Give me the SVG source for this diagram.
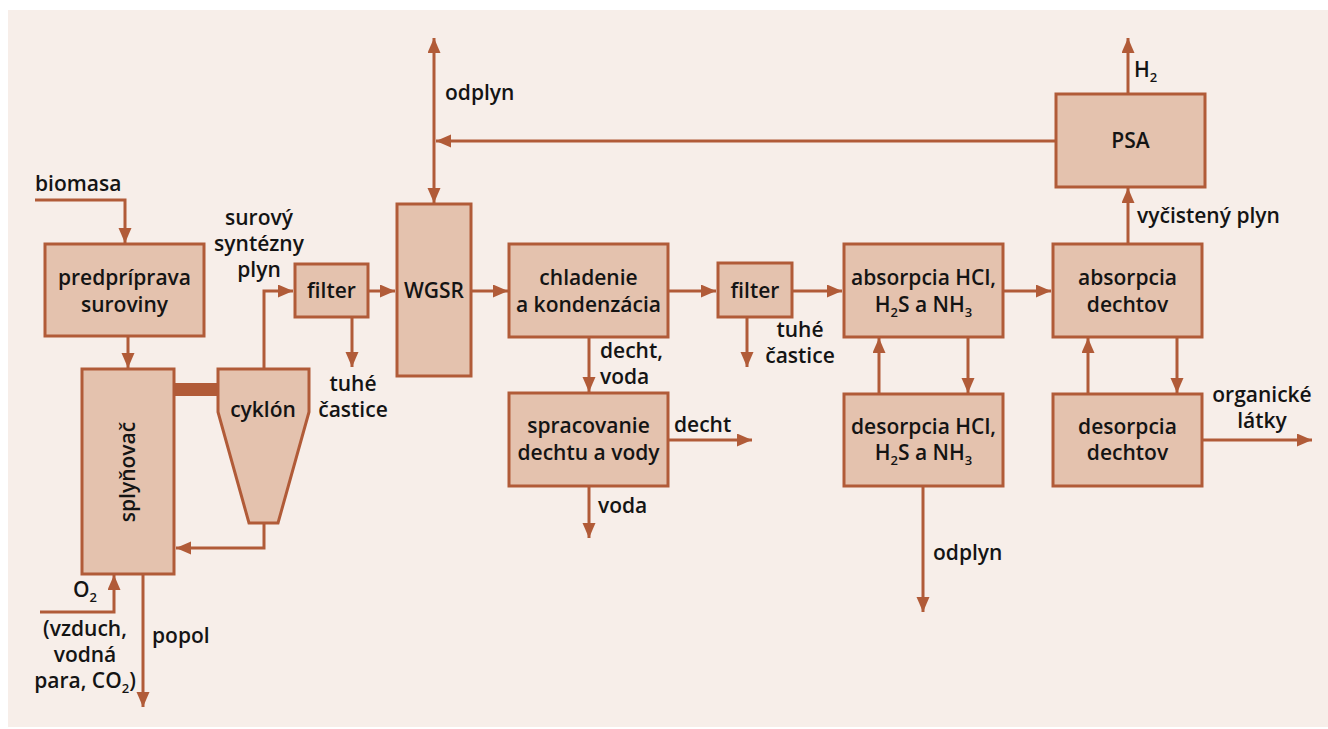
<svg xmlns="http://www.w3.org/2000/svg" width="1328" height="729" viewBox="0 0 1328 729">
  <style>
    .box { fill: #e4c2ae; stroke: #b15b38; stroke-width: 3; }
    .ln { fill: none; stroke: #b15b38; stroke-width: 3; }
    .arr { marker-end: url(#ah); }
    text { font-family: "Open Sans", "Noto Sans", "Liberation Sans", sans-serif; font-size: 21px; font-weight: 600; fill: #141414; }
    .c { text-anchor: middle; }
    .sub { font-size: 13px; }
  </style>
  <defs>
    <marker id="ah" markerUnits="userSpaceOnUse" markerWidth="16" markerHeight="14" refX="15" refY="6.5" orient="auto">
      <path d="M0,0 L15,6.5 L0,13 z" fill="#b15b38"/>
    </marker>
    <marker id="ahs" markerUnits="userSpaceOnUse" markerWidth="16" markerHeight="14" refX="15" refY="6.5" orient="auto-start-reverse">
      <path d="M0,0 L15,6.5 L0,13 z" fill="#b15b38"/>
    </marker>
  </defs>

  <!-- background panel -->
  <rect x="0" y="0" width="1328" height="729" fill="#ffffff"/>
  <rect x="8" y="10" width="1320" height="717" fill="#f7eee9"/>

  <!-- connectors -->
  <g id="connectors">
    <polyline class="ln arr" points="35,200 125,200 125,243"/>
    <line class="ln arr" x1="128" y1="337" x2="128" y2="368"/>
    <rect x="174" y="383" width="45" height="13" fill="#b15b38"/>
    <polyline class="ln arr" points="264,369 264,291 293,291"/>
    <polyline class="ln arr" points="264,523 264,548 176,548"/>
    <polyline class="ln arr" points="40,612 114,612 114,575"/>
    <line class="ln arr" x1="143" y1="575" x2="143" y2="707"/>
    <line class="ln arr" x1="368" y1="291" x2="395" y2="291"/>
    <line class="ln arr" x1="352" y1="317" x2="352" y2="367"/>
    <line class="ln" x1="434" y1="38" x2="434" y2="203" marker-start="url(#ahs)" marker-end="url(#ah)"/>
    <line class="ln arr" x1="1056" y1="141" x2="436" y2="141"/>
    <line class="ln arr" x1="471" y1="291" x2="508" y2="291"/>
    <line class="ln arr" x1="668" y1="291" x2="716" y2="291"/>
    <line class="ln arr" x1="792" y1="291" x2="842" y2="291"/>
    <line class="ln arr" x1="747" y1="317" x2="747" y2="367"/>
    <line class="ln arr" x1="589" y1="337" x2="589" y2="392"/>
    <line class="ln arr" x1="668" y1="440" x2="752" y2="440"/>
    <line class="ln arr" x1="589" y1="486" x2="589" y2="538"/>
    <line class="ln arr" x1="1003" y1="291" x2="1051" y2="291"/>
    <line class="ln arr" x1="879" y1="394" x2="879" y2="338"/>
    <line class="ln arr" x1="968" y1="337" x2="968" y2="393"/>
    <line class="ln arr" x1="1088" y1="394" x2="1088" y2="338"/>
    <line class="ln arr" x1="1177" y1="337" x2="1177" y2="393"/>
    <line class="ln arr" x1="923" y1="486" x2="923" y2="612"/>
    <line class="ln arr" x1="1202" y1="440" x2="1312" y2="440"/>
    <line class="ln arr" x1="1128" y1="244" x2="1128" y2="188"/>
    <line class="ln arr" x1="1128" y1="94" x2="1128" y2="38"/>
  </g>

  <!-- flow labels -->
  <g id="labels">
    <text x="35" y="191">biomasa</text>
    <text class="c"><tspan x="259" y="225">surový</tspan><tspan x="259" y="251">syntézny</tspan><tspan x="259" y="277">plyn</tspan></text>
    <text x="73" y="597">O<tspan class="sub" dy="5">2</tspan></text>
    <text class="c"><tspan x="85" y="636">(vzduch,</tspan><tspan x="85" y="662">vodná</tspan><tspan x="85" y="688">para, CO</tspan><tspan class="sub" dy="5">2</tspan><tspan dy="-5">)</tspan></text>
    <text x="152" y="643">popol</text>
    <text class="c"><tspan x="353" y="391">tuhé</tspan><tspan x="353" y="417">častice</tspan></text>
    <text x="445" y="100">odplyn</text>
    <text><tspan x="600" y="358">decht,</tspan><tspan x="600" y="384">voda</tspan></text>
    <text x="674" y="432">decht</text>
    <text x="598" y="513">voda</text>
    <text class="c"><tspan x="800" y="337">tuhé</tspan><tspan x="800" y="363">častice</tspan></text>
    <text x="933" y="560">odplyn</text>
    <text class="c"><tspan x="1262" y="402">organické</tspan><tspan x="1262" y="428">látky</tspan></text>
    <text x="1137" y="223">vyčistený plyn</text>
    <text x="1134" y="77">H<tspan class="sub" dy="5">2</tspan></text>
  </g>

  <!-- process units -->
  <g id="predpriprava">
    <rect class="box" x="45" y="244" width="159" height="92"/>
    <text class="c"><tspan x="124.5" y="285">predpríprava</tspan><tspan x="124.5" y="312">suroviny</tspan></text>
  </g>
  <g id="splynovac">
    <rect class="box" x="82" y="369" width="92" height="205"/>
    <text class="c" transform="translate(135,472) rotate(-90)">splyňovač</text>
  </g>
  <g id="cyklon">
    <path class="box" d="M218,369 H309 V412 L278,523 H249 L218,412 Z"/>
    <text class="c" x="263" y="417">cyklón</text>
  </g>
  <g id="filter1">
    <rect class="box" x="295" y="264" width="73" height="53"/>
    <text class="c" x="331.5" y="298">filter</text>
  </g>
  <g id="wgsr">
    <rect class="box" x="397" y="204" width="74" height="172"/>
    <text class="c" x="434" y="298">WGSR</text>
  </g>
  <g id="chladenie">
    <rect class="box" x="509" y="244" width="159" height="93"/>
    <text class="c"><tspan x="588.5" y="285">chladenie</tspan><tspan x="588.5" y="312">a kondenzácia</tspan></text>
  </g>
  <g id="spracovanie">
    <rect class="box" x="509" y="393" width="159" height="93"/>
    <text class="c"><tspan x="588.5" y="433">spracovanie</tspan><tspan x="588.5" y="460">dechtu a vody</tspan></text>
  </g>
  <g id="filter2">
    <rect class="box" x="718" y="263" width="74" height="54"/>
    <text class="c" x="755" y="298">filter</text>
  </g>
  <g id="absorpcia-hcl">
    <rect class="box" x="844" y="244" width="159" height="93"/>
    <text class="c"><tspan x="923.5" y="285">absorpcia HCl,</tspan><tspan x="923.5" y="312">H</tspan><tspan class="sub" dy="5">2</tspan><tspan dy="-5">S a NH</tspan><tspan class="sub" dy="5">3</tspan></text>
  </g>
  <g id="desorpcia-hcl">
    <rect class="box" x="844" y="394" width="159" height="92"/>
    <text class="c"><tspan x="923.5" y="434">desorpcia HCl,</tspan><tspan x="923.5" y="460">H</tspan><tspan class="sub" dy="5">2</tspan><tspan dy="-5">S a NH</tspan><tspan class="sub" dy="5">3</tspan></text>
  </g>
  <g id="absorpcia-dechtov">
    <rect class="box" x="1053" y="244" width="149" height="93"/>
    <text class="c"><tspan x="1127.5" y="285">absorpcia</tspan><tspan x="1127.5" y="312">dechtov</tspan></text>
  </g>
  <g id="desorpcia-dechtov">
    <rect class="box" x="1053" y="394" width="149" height="92"/>
    <text class="c"><tspan x="1127.5" y="434">desorpcia</tspan><tspan x="1127.5" y="460">dechtov</tspan></text>
  </g>
  <g id="psa">
    <rect class="box" x="1056" y="94" width="149" height="93"/>
    <text class="c" x="1130.5" y="148">PSA</text>
  </g>
</svg>
